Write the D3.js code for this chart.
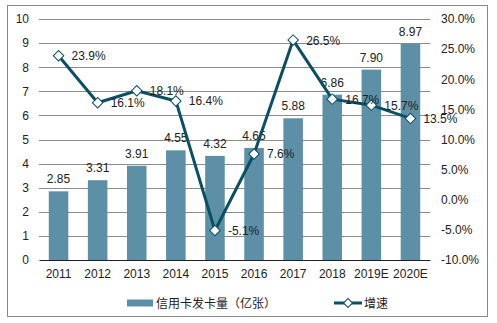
<!DOCTYPE html>
<html>
<head>
<meta charset="utf-8">
<script src="https://cdn.jsdelivr.net/npm/d3@7"></script>
<style>
  body { margin: 0; background: #fff; }
  text { font-family: "Liberation Sans", Arial, sans-serif; fill: #222; }
  .cjk { font-family: "Noto Sans CJK SC", sans-serif; }
</style>
</head>
<body>
<div id="chart"></div>
<script>
const years = ['2011', '2012', '2013', '2014', '2015', '2016', '2017', '2018', '2019E', '2020E'];
const cards = [2.85, 3.31, 3.91, 4.55, 4.32, 4.65, 5.88, 6.86, 7.90, 8.97];
const growth = [23.9, 16.1, 18.1, 16.4, -5.1, 7.6, 26.5, 16.7, 15.7, 13.5];
const leftTicks = [0, 1, 2, 3, 4, 5, 6, 7, 8, 9, 10];
const rightTicks = [-10, -5, 0, 5, 10, 15, 20, 25, 30];
const barName = '信用卡发卡量（亿张）';
const lineName = '增速';

const W = 497, H = 323;
const margin = { top: 19, right: 67, bottom: 63, left: 39 };
const barColor = '#5d90a7';
const lineColor = '#0b4f63';

const svg = d3.select('#chart').append('svg')
  .attr('width', W)
  .attr('height', H);

// outer frame
svg.append('rect')
  .attr('x', 7.5).attr('y', 5.5)
  .attr('width', 480).attr('height', 311)
  .attr('fill', 'none')
  .attr('stroke', '#888');

const x = d3.scaleBand()
  .domain(years)
  .range([margin.left, W - margin.right])
  .paddingInner(0.5)
  .paddingOuter(0.25);

const y = d3.scaleLinear().domain([0, 10]).range([H - margin.bottom, margin.top]);
const y2 = d3.scaleLinear().domain([-10, 30]).range([H - margin.bottom, margin.top]);

// gridlines
svg.append('g')
  .selectAll('line')
  .data(leftTicks.slice(1))
  .join('line')
  .attr('x1', margin.left).attr('x2', W - margin.right)
  .attr('y1', d => Math.round(y(d)) + 0.5)
  .attr('y2', d => Math.round(y(d)) + 0.5)
  .attr('stroke', '#8c8c8c');

// left axis
const leftAxis = svg.append('g')
  .attr('transform', `translate(${margin.left},0)`)
  .call(d3.axisLeft(y).tickValues(leftTicks).tickSize(0).tickPadding(10));
leftAxis.select('.domain').remove();
leftAxis.selectAll('text').style('font-size', '12px').style('font-family', '"Liberation Sans", Arial, sans-serif').attr('fill', '#222');

// right axis
const rightAxis = svg.append('g')
  .attr('transform', `translate(${W - margin.right},0)`)
  .call(d3.axisRight(y2).tickValues(rightTicks).tickSize(0).tickPadding(11)
    .tickFormat(d => d.toFixed(1) + '%'));
rightAxis.select('.domain').remove();
rightAxis.selectAll('text').style('font-size', '12px').style('font-family', '"Liberation Sans", Arial, sans-serif').attr('fill', '#222');

// bars
svg.append('g')
  .selectAll('rect')
  .data(years)
  .join('rect')
  .attr('x', d => x(d))
  .attr('width', x.bandwidth())
  .attr('y', (d, i) => y(cards[i]))
  .attr('height', (d, i) => y(0) - y(cards[i]))
  .attr('fill', barColor);

// x axis
const bottomAxis = svg.append('g')
  .attr('transform', `translate(0,${y(0)})`)
  .call(d3.axisBottom(x).tickSize(0).tickPadding(9));
bottomAxis.select('.domain').attr('stroke', '#222').attr('stroke-width', 1.2);
bottomAxis.selectAll('text').style('font-size', '12px').style('font-family', '"Liberation Sans", Arial, sans-serif').attr('fill', '#222');

// bar labels
svg.append('g')
  .selectAll('text')
  .data(years)
  .join('text')
  .attr('x', d => x(d) + x.bandwidth() / 2)
  .attr('y', (d, i) => y(cards[i]) - 8)
  .attr('text-anchor', 'middle')
  .style('font-size', '12px')
  .text((d, i) => cards[i].toFixed(2));

// growth line
const cx = d => x(d) + x.bandwidth() / 2;
const line = d3.line()
  .x(d => cx(d))
  .y((d, i) => y2(growth[i]));
svg.append('path')
  .datum(years)
  .attr('d', line)
  .attr('fill', 'none')
  .attr('stroke', lineColor)
  .attr('stroke-width', 3)
  .attr('stroke-linejoin', 'round');

const diamond = d3.symbol().type(d3.symbolDiamond2).size(75);
svg.append('g')
  .selectAll('path')
  .data(years)
  .join('path')
  .attr('transform', (d, i) => `translate(${cx(d)},${y2(growth[i])}) rotate(45)`)
  .attr('d', d3.symbol().type(d3.symbolSquare).size(55))
  .attr('fill', '#fff')
  .attr('stroke', lineColor)
  .attr('stroke-width', 1);

// growth labels
svg.append('g')
  .selectAll('text')
  .data(years)
  .join('text')
  .attr('x', d => cx(d) + 13)
  .attr('y', (d, i) => y2(growth[i]) + 4.5)
  .style('font-size', '12px')
  .text((d, i) => growth[i].toFixed(1) + '%');

// legend
const lg = svg.append('g').attr('transform', 'translate(0,303)');
lg.append('rect')
  .attr('x', 127).attr('y', -3.5)
  .attr('width', 26).attr('height', 7)
  .attr('fill', barColor);
lg.append('text')
  .attr('class', 'cjk')
  .attr('x', 156).attr('y', 4.5)
  .style('font-size', '12px')
  .text(barName);
lg.append('line')
  .attr('x1', 334).attr('x2', 362)
  .attr('y1', 0).attr('y2', 0)
  .attr('stroke', lineColor).attr('stroke-width', 3);
lg.append('path')
  .attr('transform', 'translate(348,0) rotate(45)')
  .attr('d', d3.symbol().type(d3.symbolSquare).size(40))
  .attr('fill', '#fff')
  .attr('stroke', lineColor);
lg.append('text')
  .attr('class', 'cjk')
  .attr('x', 364).attr('y', 4.5)
  .style('font-size', '12px')
  .text(lineName);
</script>
</body>
</html>
